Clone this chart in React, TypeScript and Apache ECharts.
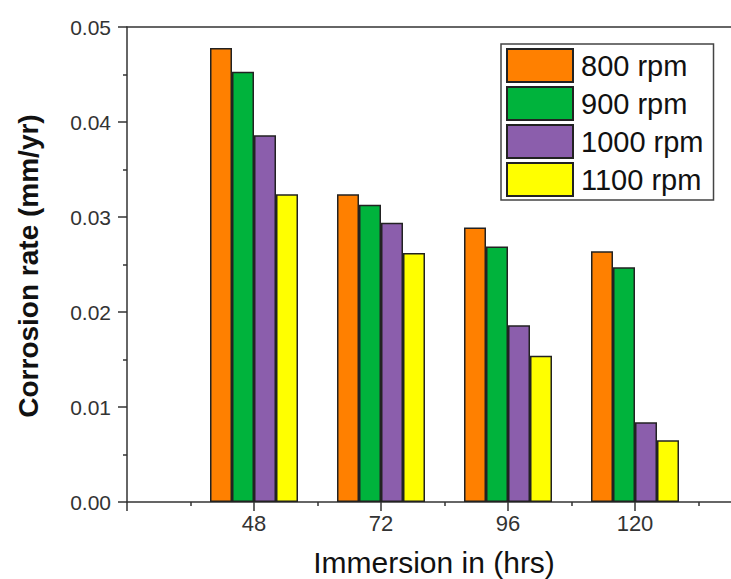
import React, { useEffect, useRef } from "react";
import * as echarts from "echarts";

const hours = [48, 72, 96, 120];
const slots = ["24", "48", "72", "96", "120", "144"];
const seriesNames = ["800 rpm", "900 rpm", "1000 rpm", "1100 rpm"];
const rpm800 = [0.0478, 0.0324, 0.0289, 0.0264];
const rpm900 = [0.0453, 0.0313, 0.0269, 0.0247];
const rpm1000 = [0.0386, 0.0294, 0.0186, 0.0084];
const rpm1100 = [0.0324, 0.0262, 0.0154, 0.0065];
const colors = ["#FF8000", "#00B33C", "#8B5EAC", "#FFFF00"];
const yTicks = [0, 0.01, 0.02, 0.03, 0.04, 0.05];

export default function App() {
  const ref = useRef<HTMLDivElement>(null);
  useEffect(() => {
    if (!ref.current) return;
    const chart = echarts.init(ref.current, undefined, { renderer: "svg" });
    const allValues = [rpm800, rpm900, rpm1000, rpm1100];
    const axisLine = { show: true, lineStyle: { color: "#333", width: 1.5 } };
    const font = "Liberation Sans, Arial, sans-serif";
    chart.setOption({
      animation: false,
      backgroundColor: "#fff",
      grid: {
        left: 127,
        top: 27,
        width: 635,
        height: 475,
        containLabel: false,
        outerBoundsMode: "none",
      },
      xAxis: [
        {
          type: "value",
          min: 24,
          max: 144,
          interval: 24,
          position: "bottom",
          axisLine,
          axisTick: { show: true, inside: false, length: 9, lineStyle: { color: "#333", width: 1.5 } },
          minorTick: { show: true, splitNumber: 2, length: 4, lineStyle: { color: "#333", width: 1.5 } },
          splitLine: { show: false },
          axisLabel: {
            formatter: (v: number) => (hours.includes(v) ? String(v) : ""),
            fontSize: 22,
            fontFamily: font,
            color: "#333",
            margin: 10,
          },
        },
        {
          type: "category",
          data: slots,
          boundaryGap: false,
          position: "top",
          axisLine,
          axisTick: { show: false },
          axisLabel: { show: false },
          splitLine: { show: false },
        },
      ],
      yAxis: {
        type: "value",
        min: 0,
        max: 0.05,
        interval: 0.01,
        axisLine,
        axisTick: { show: true, inside: false, length: 9, lineStyle: { color: "#333", width: 1.5 } },
        minorTick: { show: true, splitNumber: 2, length: 4, lineStyle: { color: "#333", width: 1.5 } },
        splitLine: { show: false },
        axisLabel: {
          formatter: (v: number) => (yTicks.some((t) => Math.abs(t - v) < 1e-9) ? v.toFixed(2) : ""),
          fontSize: 21,
          fontFamily: font,
          color: "#333",
          margin: 16,
        },
      },
      legend: {
        show: true,
        orient: "vertical",
        left: 501,
        top: 44,
        itemWidth: 66,
        itemHeight: 33,
        itemGap: 3,
        padding: [4, 10, 3, 5],
        borderColor: "#444",
        borderWidth: 1.5,
        backgroundColor: "#fff",
        icon: "rect",
        textStyle: {
          fontSize: 29,
          fontFamily: font,
          color: "#111",
          padding: [0, 0, 0, 3],
          lineHeight: 33,
        },
        data: seriesNames,
      },
      graphic: [
        {
          type: "text",
          x: 28,
          y: 266,
          rotation: Math.PI / 2,
          style: {
            text: "Corrosion rate (mm/yr)",
            fontSize: 28,
            fontWeight: "bold",
            fontFamily: font,
            fill: "#111",
            align: "center",
            verticalAlign: "middle",
          },
        },
        {
          type: "text",
          x: 434,
          y: 562,
          style: {
            text: "Immersion in (hrs)",
            fontSize: 30,
            fontFamily: font,
            fill: "#111",
            align: "center",
            verticalAlign: "middle",
          },
        },
      ],
      series: seriesNames.map((name, i) => ({
        name,
        type: "bar",
        xAxisIndex: 1,
        barWidth: 22,
        barGap: "0%",
        data: ["-", ...allValues[i], "-"],
        itemStyle: { color: colors[i], borderColor: "#222", borderWidth: 1.5 },
      })),
    });
    return () => chart.dispose();
  }, []);
  return <div ref={ref} style={{ width: 731, height: 579, position: "absolute", left: 0, top: 0 }} />;
}
